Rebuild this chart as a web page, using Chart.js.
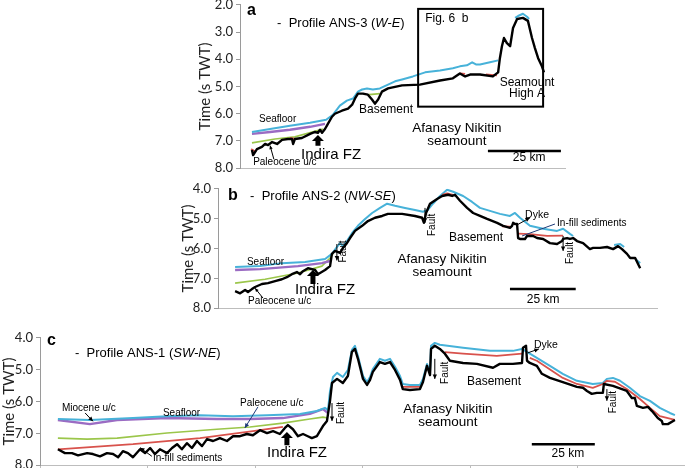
<!DOCTYPE html>
<html>
<head>
<meta charset="utf-8">
<script src="https://cdn.jsdelivr.net/npm/chart.js@4.4.1/dist/chart.umd.min.js"></script>
<style>
  html, body { margin: 0; padding: 0; background: #fff; width: 685px; height: 468px; overflow: hidden; }
  .panel { position: absolute; }
</style>
</head>
<body>
<div class="panel" style="left:196px;top:-6px;width:384px;height:185px"><canvas id="chartA"></canvas></div>
<div class="panel" style="left:179px;top:178px;width:488px;height:141px"><canvas id="chartB"></canvas></div>
<div class="panel" style="left:0px;top:327px;width:685px;height:149px"><canvas id="chartC"></canvas></div>
<script>
// Profiles across the Afanasy Nikitin seamount: [distance km, time s TWT], null = gap

// a - ANS-3 (W-E)
const ans3Basement = [[4.1,7.33],[4.5,7.52],[5.8,7.30],[7.5,7.22],[8.6,7.11],[9.6,7.15],[11.0,7.04],[12.7,7.11],[14.4,6.96],[16.4,6.93],[17.8,6.93],[18.2,7.11],[18.8,6.93],[21.2,6.89],[24.0,6.74],[25.7,6.67],[26.7,6.70],[27.4,6.59],[28.1,6.70],[29.1,6.56],[30.1,6.37],[31.5,6.11],[32.5,6.00],[34.9,5.89],[37.0,5.81],[38.4,5.67],[39.4,5.44],[40.4,5.26],[42.1,5.26],[43.8,5.30],[45.2,5.48],[46.2,5.63],[47.3,5.48],[48.6,5.19],[50.7,5.07],[55.5,4.96],[61.6,4.93],[68.5,4.78],[72.9,4.70],[75.3,4.52],[77.1,4.63],[78.8,4.56],[82.2,4.56],[86.6,4.63],[88.4,4.48],[89.0,3.96],[89.7,3.52],[90.4,3.22],[91.4,3.41],[92.5,3.52],[93.5,2.85],[94.9,2.52],[96.9,2.48],[98.6,2.59],[100.0,3.22],[101.0,3.59],[102.1,3.96],[103.4,4.26],[104.1,4.48]];
const ans3Seafloor = [[4.1,6.67],[10.3,6.56],[17.1,6.44],[24.0,6.33],[29.5,6.22],[31.8,6.04],[34.2,5.70],[36.6,5.52],[38.7,5.44],[40.4,5.19],[41.8,5.11],[43.5,5.07],[45.5,5.11],[47.9,5.07],[50.7,4.93],[53.1,4.81],[55.5,4.74],[59.2,4.63],[63.4,4.48],[68.5,4.41],[72.9,4.33],[75.3,4.26],[77.7,4.22],[79.5,4.11],[80.8,4.19],[82.2,4.19],[85.6,4.11],[88.4,4.04],[91,null],[94.2,2.48],[95.2,2.41],[96.9,2.33],[98.3,2.44],[99.0,2.52]];
const ans3Miocene = [[4.1,6.74],[10.3,6.67],[17.1,6.59],[24.0,6.48],[29.1,6.37]];
const ans3Paleocene = [[4.1,7.07],[12.0,6.93],[18.8,6.85],[24.7,6.67],[28.4,6.56],[30,null],[44.2,5.30],[47.9,5.26]];
const ans3Infill = [[3.8,7.30],[5.5,7.41],[6,null],[17.1,6.89],[19.2,6.93],[20,null],[75.3,4.52],[77.1,4.54],[78,null],[84.2,4.56],[88.0,4.59]];

// b - ANS-2 (NW-SE)
const ans2Basement = [[6.5,7.43],[8.4,7.50],[10.3,7.39],[11.4,7.46],[12.9,7.36],[14.1,7.29],[16.7,7.19],[19.0,7.16],[21.7,7.09],[24.3,7.03],[26.2,6.96],[28.1,6.86],[30.0,6.79],[31.2,6.86],[32.3,6.76],[34.2,6.66],[36.9,6.72],[38.0,6.86],[40.7,6.72],[42.6,6.59],[43.3,6.18],[44.5,6.08],[46.4,6.15],[47.5,5.98],[49.0,5.82],[50.2,5.65],[52.1,5.41],[54.8,5.24],[57.0,5.08],[59.7,4.97],[62.4,4.91],[64.6,4.84],[70.0,4.84],[74.9,4.91],[77.6,4.97],[78.3,5.14],[79.1,4.81],[80.6,4.50],[83.3,4.34],[85.2,4.24],[87.5,4.20],[89.0,4.24],[90.1,4.20],[92.0,4.40],[94.7,4.64],[97.0,4.81],[99.6,4.91],[102.3,5.01],[106.1,5.14],[108.4,5.24],[111.0,5.31],[111.8,5.24],[112.2,5.14],[112.9,5.18],[113.7,5.18],[114.1,5.65],[114.8,5.68],[116.7,5.68],[117.5,5.58],[119.8,5.58],[121.3,5.65],[123.6,5.68],[126.2,5.82],[128.9,5.85],[130.8,5.75],[131.2,5.68],[132.7,5.65],[133.8,5.68],[135.0,5.65],[136.5,5.75],[138.8,5.82],[141.4,6.02],[142.6,5.98],[145.2,5.98],[147.9,5.95],[150.2,6.02],[152.1,5.92],[153.6,6.02],[155.5,6.18],[156.7,6.32],[158.6,6.32],[159.7,6.52],[160.5,6.66]];
const ans2Seafloor = [[6.5,6.62],[16.0,6.59],[24.3,6.49],[33.1,6.45],[40.7,6.35],[43.3,6.18],[45.2,5.95],[46.4,5.82],[47.5,5.92],[49.0,5.75],[51.0,5.48],[53.2,5.24],[55.9,5.01],[58.6,4.81],[61.6,4.64],[64.3,4.50],[67.3,4.57],[71.1,4.64],[74.9,4.71],[77.9,4.77],[79.8,4.71],[81.7,4.50],[84.4,4.24],[87.1,4.03],[89.4,4.10],[93.2,4.24],[96.6,4.44],[99.6,4.64],[103.4,4.74],[107.2,4.84],[111.0,4.91],[112.9,4.81],[114.8,4.97],[118.6,5.24],[123.6,5.34],[128.9,5.41],[131.2,5.34],[133.8,5.51],[135.0,5.58],[140,null],[150.6,5.88],[152.9,5.85],[154.4,5.95],[156,null],[158.6,6.35],[160.5,6.49]];
const ans2Miocene = [[6.5,6.72],[16.0,6.69],[30.4,6.59],[39.5,6.49],[42.6,6.42]];
const ans2Paleocene = [[6.5,7.16],[17.9,7.03],[30.4,6.82],[39.5,6.59],[42.6,6.32],[43.7,6.18]];
const ans2Infill = [[85.2,4.20],[87.1,4.15],[89.4,4.20],[90,null],[108.0,5.26],[111.0,5.27],[112,null],[114.1,5.50],[118.6,5.52],[125.1,5.58],[131.2,5.57]];

// c - ANS-1 (SW-NE)
const ans1Basement = [[7.1,7.50],[9.9,7.62],[12.7,7.62],[15.1,7.69],[18.7,7.62],[21.0,7.65],[23.8,7.72],[26.6,7.62],[29.0,7.65],[31.0,7.75],[32.9,7.56],[34.9,7.62],[36.9,7.75],[39.7,7.50],[41.7,7.62],[43.7,7.46],[45.6,7.65],[47.6,7.50],[50.4,7.62],[52.4,7.46],[54.4,7.34],[56.3,7.50],[58.3,7.31],[60.3,7.46],[62.3,7.24],[64.3,7.40],[66.3,7.18],[68.7,7.24],[71.4,7.15],[74.2,7.24],[76.6,7.09],[79.4,7.09],[82.1,7.02],[84.5,7.06],[87.3,6.90],[90.1,6.99],[92.5,6.93],[95.2,7.02],[97.2,6.83],[98.4,6.74],[100.4,6.87],[102.4,7.09],[104.4,7.02],[106.3,7.09],[107.9,7.15],[109.9,7.09],[111.1,6.93],[112.3,6.77],[113.9,6.61],[115.1,5.98],[115.9,5.42],[117.9,5.29],[120.2,5.42],[122.2,5.20],[123.8,4.44],[125.0,4.35],[126.2,4.66],[128.2,5.29],[129.8,5.48],[131.0,5.32],[132.1,5.07],[134.9,4.76],[136.9,4.82],[138.9,4.76],[140.9,5.01],[142.9,5.32],[144.0,5.61],[146.8,5.64],[150.8,5.61],[152.0,5.39],[153.6,4.88],[154.8,5.17],[155.2,4.35],[156.7,4.25],[158.7,4.35],[160.7,4.50],[162.7,4.72],[167.9,4.79],[173.4,4.82],[179.8,4.94],[182.5,4.82],[187.7,4.82],[191.3,4.79],[191.7,4.31],[192.9,4.25],[193.3,4.72],[194.4,4.79],[197.2,4.88],[199.2,5.13],[202.4,5.26],[207.5,5.39],[213.1,5.54],[215.5,5.57],[217.1,5.67],[219.0,5.76],[221.0,5.73],[223.4,5.73],[223.8,5.45],[227.4,5.51],[232.9,5.67],[234.9,5.89],[236.1,5.89],[236.9,6.14],[239.3,6.20],[241.3,6.17],[242.9,6.30],[245.2,6.52],[246.8,6.61],[247.2,6.71],[249.2,6.71],[252.0,6.58]];
const ans1Seafloor = [[7.1,6.55],[19.8,6.58],[36.9,6.52],[50.4,6.46],[63.5,6.43],[76.6,6.46],[90.1,6.43],[103.2,6.39],[109.9,6.30],[113.1,6.20],[114.3,6.27],[115.1,5.67],[116.3,5.23],[117.9,5.10],[120.2,5.23],[122.2,5.01],[123.8,4.38],[125.0,4.25],[126.2,4.57],[128.2,5.20],[129.8,5.39],[131.0,5.23],[132.1,4.98],[134.9,4.66],[136.9,4.72],[138.9,4.66],[140.9,4.91],[142.9,5.20],[144.0,5.45],[146.8,5.48],[150.8,5.48],[152.0,5.29],[153.6,4.82],[154.8,5.07],[155.2,4.25],[156.7,4.16],[158.7,4.22],[167.9,4.31],[178.6,4.41],[187.7,4.41],[191.3,4.35],[197.2,4.63],[202.4,4.88],[207.5,5.13],[213.1,5.35],[219.4,5.45],[223.4,5.42],[225.0,5.29],[227.4,5.26],[230.2,5.35],[234.1,5.57],[238.1,5.83],[242.1,5.98],[246.0,6.20],[250.0,6.36],[252.0,6.43]];
const ans1Miocene = [[7.1,6.58],[19.8,6.71],[30.6,6.58],[50.4,6.52],[70.2,6.55],[83.3,6.55],[96.4,6.52],[107.1,6.39],[112.3,6.24],[114.3,6.36]];
const ans1Paleocene = [[7.1,7.15],[18.7,7.18],[30.6,7.15],[50.4,6.99],[70.2,6.87],[83.3,6.80],[96.4,6.68],[107.1,6.55],[112.3,6.49],[114.3,6.52]];
const ans1Infill = [[7.1,7.50],[36.9,7.34],[63.5,7.15],[84.5,6.93],[96.4,6.80],[98,null],[144.0,5.54],[150.8,5.54],[152,null],[160.7,4.45],[167.9,4.50],[181.3,4.57],[191.3,4.50],[192.5,null],[194.4,4.63],[197.2,4.72],[207.5,5.26],[213.1,5.45],[219.4,5.57],[223.4,5.45],[225.0,5.35],[228.2,5.38],[232.9,5.61],[238.1,5.92],[242.1,6.20],[246.0,6.46],[252.0,6.58]];

const timeTicks = ['2.0', '3.0', '4.0', '5.0', '6.0', '7.0', '8.0'];

const TXT = '"Liberation Sans", Arial, sans-serif';
Chart.defaults.font.family = 'Lato, "Liberation Sans", sans-serif';
Chart.defaults.animation = false;

// labels, arrows, box and scale bar, placed in data coordinates
const notes = {
  id: 'notes',
  afterDatasetsDraw(chart, args, opts) {
    const ctx = chart.ctx, sx = chart.scales.x, sy = chart.scales.y;
    const px = p => [sx.getPixelForValue(p[0]), sy.getPixelForValue(p[1])];
    ctx.save();
    opts.items.forEach(n => {
      ctx.fillStyle = ctx.strokeStyle = n.color || '#000';
      if (n.type === 'text') {
        const [x, y] = px(n.at);
        ctx.font = (n.style || '') + ' ' + n.size + 'px ' + TXT;
        ctx.textBaseline = 'middle';
        if (n.rotate) {
          ctx.translate(x, y); ctx.rotate(-Math.PI / 2);
          ctx.textAlign = 'center'; ctx.fillText(n.text, 0, 0);
          ctx.setTransform(1, 0, 0, 1, 0, 0);
          ctx.scale(chart.currentDevicePixelRatio, chart.currentDevicePixelRatio);
        } else {
          ctx.textAlign = n.align || 'left';
          ctx.fillText(n.text, x, y);
        }
      } else if (n.type === 'rich') {
        let [x, y] = px(n.at);
        ctx.textBaseline = 'middle'; ctx.textAlign = 'left';
        n.parts.forEach(([s, st]) => {
          ctx.font = st + ' ' + n.size + 'px ' + TXT;
          ctx.fillText(s, x, y);
          x += ctx.measureText(s).width;
        });
      } else if (n.type === 'arrow') {
        const [x1, y1] = px(n.from), [x2, y2] = px(n.to);
        ctx.lineWidth = n.width || 1;
        ctx.beginPath(); ctx.moveTo(x1, y1); ctx.lineTo(x2, y2); ctx.stroke();
        if (n.head) {
          const a = Math.atan2(y2 - y1, x2 - x1), h = n.head;
          ctx.beginPath();
          ctx.moveTo(x2, y2);
          ctx.lineTo(x2 - h * Math.cos(a - 0.45), y2 - h * Math.sin(a - 0.45));
          ctx.lineTo(x2 - h * Math.cos(a + 0.45), y2 - h * Math.sin(a + 0.45));
          ctx.closePath(); ctx.fill();
        }
      } else if (n.type === 'block') {
        const [x1, y1] = px(n.from), [x2, y2] = px(n.to);
        ctx.beginPath();
        ctx.moveTo(x2, y2);
        ctx.lineTo(x2 + 6, y2 + 6); ctx.lineTo(x2 + 2.5, y2 + 6);
        ctx.lineTo(x1 + 2.5, y1); ctx.lineTo(x1 - 2.5, y1);
        ctx.lineTo(x2 - 2.5, y2 + 6); ctx.lineTo(x2 - 6, y2 + 6);
        ctx.closePath(); ctx.fill();
      } else if (n.type === 'box') {
        const [x1, y1] = px(n.from), [x2, y2] = px(n.to);
        ctx.lineWidth = n.width || 2;
        ctx.strokeRect(x1, y1, x2 - x1, y2 - y1);
      }
    });
    ctx.restore();
  }
};

function layers(basement, infill, seafloor, miocene, paleocene) {
  const base = { pointRadius: 0, tension: 0, fill: false, spanGaps: false, borderJoinStyle: 'round' };
  return [
    Object.assign({ label: 'Basement', data: basement, borderColor: '#000000', borderWidth: 2.4 }, base),
    Object.assign({ label: 'In-fill', data: infill, borderColor: '#d8524c', borderWidth: 1.8 }, base),
    Object.assign({ label: 'Seafloor', data: seafloor, borderColor: '#47b2d9', borderWidth: 2 }, base),
    Object.assign({ label: 'Miocene u/c', data: miocene, borderColor: '#9b6cc3', borderWidth: 2.4 }, base),
    Object.assign({ label: 'Paleocene u/c', data: paleocene, borderColor: '#9bc64a', borderWidth: 1.6 }, base)
  ];
}

function profile(id, sets, xMax, yMin, yAxisWidth, items, xTickCount) {
  new Chart(document.getElementById(id), {
    type: 'line',
    data: { datasets: sets },
    options: {
      responsive: true,
      maintainAspectRatio: false,
      layout: { padding: { top: 10, right: id === 'chartC' ? 0 : (id === 'chartA' ? 15 : 10), bottom: 0, left: 0 } },
      plugins: { legend: { display: false }, tooltip: { enabled: false }, notes: { items: items } },
      scales: {
        x: {
          type: 'linear', min: 0, max: xMax,
          border: { color: '#bdbdbd', width: 1 },
          grid: { display: !!xTickCount, drawOnChartArea: false, drawTicks: true, tickLength: 5, color: '#bdbdbd' },
          ticks: { display: false },
          afterBuildTicks: s => {
            if (xTickCount) s.ticks = Array.from({ length: xTickCount + 1 }, (_, i) => ({ value: i * xMax / xTickCount }));
          },
          afterFit: s => { s.height = 8; }
        },
        y: {
          reverse: true, min: yMin, max: 8,
          border: { color: '#9a9a9a', width: 1 },
          grid: { drawOnChartArea: false, tickLength: 4, color: '#9a9a9a' },
          ticks: {
            stepSize: 1, padding: 3, color: '#222', font: { size: 13 },
            callback: v => timeTicks[v - 2]
          },
          title: { display: true, text: 'Time (s TWT)', font: { size: 15 }, color: '#222', padding: 0 },
          afterFit: s => { s.width = yAxisWidth; }
        }
      }
    },
    plugins: [notes]
  });
}

profile('chartA', layers(ans3Basement, ans3Infill, ans3Seafloor, ans3Miocene, ans3Paleocene), 111.3, 2, 44, [
  { type: 'text', at: [2.4, 2.22], text: 'a', size: 16, style: 'bold' },
  { type: 'rich', at: [12.7, 2.70], size: 13, parts: [['-  Profile ANS-3 (', ''], ['W-E', 'italic'], [')', '']] },
  { type: 'box', from: [61.0, 2.15], to: [103.8, 5.74], width: 2 },
  { type: 'text', at: [63.4, 2.52], text: 'Fig. 6  b', size: 12 },
  { type: 'text', at: [98.3, 4.85], text: 'Seamount', size: 12, align: 'center' },
  { type: 'text', at: [98.3, 5.26], text: 'High A', size: 12, align: 'center' },
  { type: 'text', at: [6.5, 6.22], text: 'Seafloor', size: 10 },
  { type: 'text', at: [50.0, 5.85], text: 'Basement', size: 12, align: 'center' },
  { type: 'text', at: [31.2, 7.52], text: 'Indira FZ', size: 15, align: 'center' },
  { type: 'block', from: [26.7, 7.18], to: [26.7, 6.78] },
  { type: 'text', at: [4.5, 7.78], text: 'Paleocene u/c', size: 10 },
  { type: 'arrow', from: [11.6, 7.67], to: [10.3, 7.17], head: 4 },
  { type: 'text', at: [74.3, 6.52], text: 'Afanasy Nikitin', size: 13.5, align: 'center' },
  { type: 'text', at: [74.3, 7.0], text: 'seamount', size: 13.5, align: 'center' },
  { type: 'arrow', from: [84.9, 7.37], to: [109.9, 7.37], width: 2.5 },
  { type: 'text', at: [99.0, 7.6], text: '25 km', size: 12, align: 'center' }
]);

profile('chartB', layers(ans2Basement, ans2Infill, ans2Seafloor, ans2Miocene, ans2Paleocene), 166.9, 4, 39, [
  { type: 'text', at: [3.8, 4.24], text: 'b', size: 16, style: 'bold' },
  { type: 'rich', at: [12.2, 4.24], size: 13, parts: [['-  Profile ANS-2 (', ''], ['NW-SE', 'italic'], [')', '']] },
  { type: 'text', at: [11.0, 6.45], text: 'Seafloor', size: 10 },
  { type: 'text', at: [11.4, 7.76], text: 'Paleocene u/c', size: 10 },
  { type: 'arrow', from: [17.1, 7.66], to: [14.1, 7.33], head: 4 },
  { type: 'text', at: [40.7, 7.39], text: 'Indira FZ', size: 15, align: 'center' },
  { type: 'block', from: [36.1, 7.19], to: [36.1, 6.72] },
  { type: 'arrow', from: [45.2, 5.85], to: [45.2, 6.40], head: 5 },
  { type: 'text', at: [47.6, 6.10], text: 'Fault', size: 10, rotate: true },
  { type: 'arrow', from: [78.7, 4.64], to: [78.7, 5.14], head: 5 },
  { type: 'text', at: [81.5, 5.21], text: 'Fault', size: 10, rotate: true },
  { type: 'arrow', from: [131.2, 5.58], to: [131.2, 6.08], head: 5 },
  { type: 'text', at: [133.8, 6.15], text: 'Fault', size: 10, rotate: true },
  { type: 'text', at: [98.1, 5.65], text: 'Basement', size: 12, align: 'center' },
  { type: 'text', at: [85.2, 6.35], text: 'Afanasy Nikitin', size: 13.5, align: 'center' },
  { type: 'text', at: [85.2, 6.79], text: 'seamount', size: 13.5, align: 'center' },
  { type: 'text', at: [121.3, 4.87], text: 'Dyke', size: 10.5, align: 'center' },
  { type: 'arrow', from: [113.7, 5.21], to: [118.6, 4.97], head: 5 },
  { type: 'text', at: [128.9, 5.14], text: 'In-fill sediments', size: 10 },
  { type: 'arrow', from: [128.1, 5.18], to: [115.6, 5.58], color: '#1d3a78' },
  { type: 'arrow', from: [111.0, 7.36], to: [136.0, 7.36], width: 2.5 },
  { type: 'text', at: [123.6, 7.70], text: '25 km', size: 12, align: 'center' }
], 0);

profile('chartC', layers(ans1Basement, ans1Infill, ans1Seafloor, ans1Miocene, ans1Paleocene), 256, 4, 40, [
  { type: 'text', at: [2.8, 4.09], text: 'c', size: 16, style: 'bold' },
  { type: 'rich', at: [13.9, 4.50], size: 13, parts: [['-  Profile ANS-1 (', ''], ['SW-NE', 'italic'], [')', '']] },
  { type: 'text', at: [8.7, 6.20], text: 'Miocene u/c', size: 10 },
  { type: 'arrow', from: [17.9, 6.36], to: [21.0, 6.62], head: 5 },
  { type: 'text', at: [48.8, 6.36], text: 'Seafloor', size: 10 },
  { type: 'text', at: [79.4, 6.05], text: 'Paleocene u/c', size: 10 },
  { type: 'arrow', from: [86.5, 6.17], to: [81.3, 6.83], head: 5, color: '#1d3a78' },
  { type: 'text', at: [44.8, 7.78], text: 'In-fill sediments', size: 10 },
  { type: 'arrow', from: [44.4, 7.72], to: [39.7, 7.45], head: 5 },
  { type: 'text', at: [102.0, 7.62], text: 'Indira FZ', size: 15, align: 'center' },
  { type: 'block', from: [98.0, 7.37], to: [98.0, 6.96] },
  { type: 'arrow', from: [115.9, 6.05], to: [115.9, 6.61], head: 5 },
  { type: 'text', at: [119.5, 6.36], text: 'Fault', size: 10, rotate: true },
  { type: 'arrow', from: [156.7, 4.66], to: [156.7, 5.29], head: 5 },
  { type: 'text', at: [160.7, 5.10], text: 'Fault', size: 10, rotate: true },
  { type: 'arrow', from: [225.0, 5.61], to: [225.0, 5.98], head: 5 },
  { type: 'text', at: [227.4, 6.02], text: 'Fault', size: 10, rotate: true },
  { type: 'text', at: [180.2, 5.39], text: 'Basement', size: 12, align: 'center' },
  { type: 'text', at: [161.9, 6.24], text: 'Afanasy Nikitin', size: 13.5, align: 'center' },
  { type: 'text', at: [161.9, 6.64], text: 'seamount', size: 13.5, align: 'center' },
  { type: 'text', at: [200.8, 4.22], text: 'Dyke', size: 10.5, align: 'center' },
  { type: 'arrow', from: [193.7, 4.47], to: [198.0, 4.35], head: 5 },
  { type: 'arrow', from: [195.2, 7.34], to: [220.2, 7.34], width: 2.5 },
  { type: 'text', at: [209.5, 7.65], text: '25 km', size: 12, align: 'center' }
], 6);
</script>
</body>
</html>
